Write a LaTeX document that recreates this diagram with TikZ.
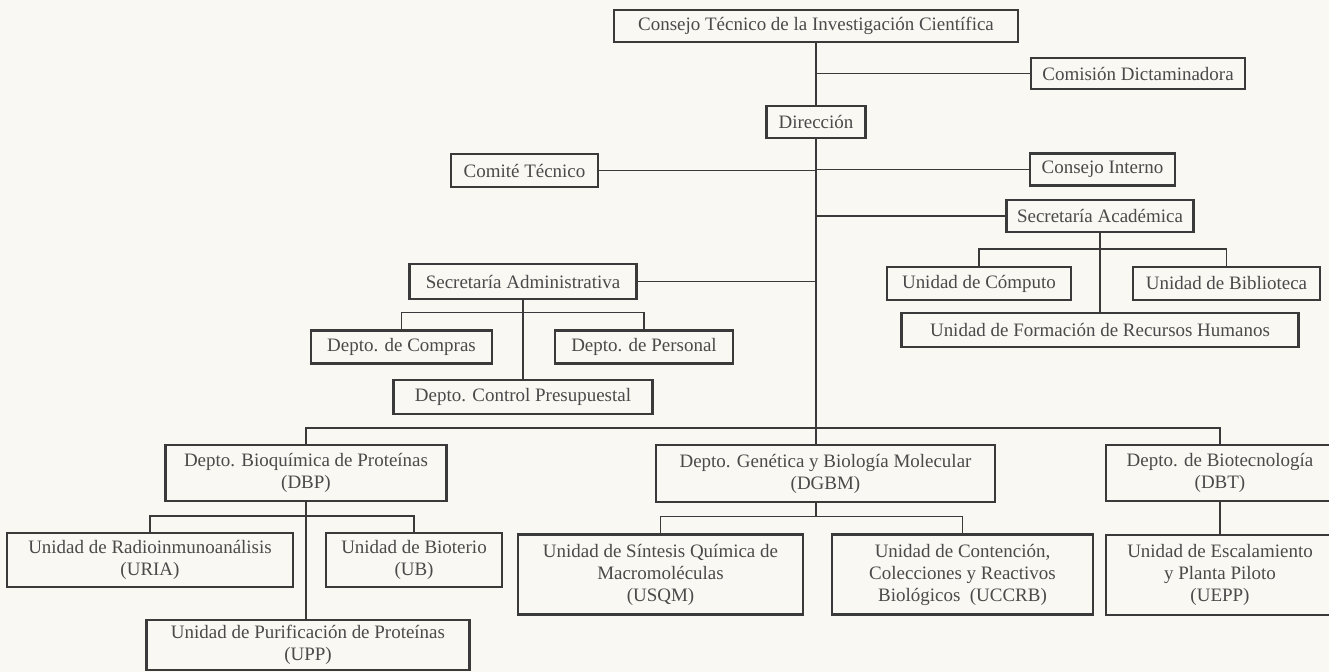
\documentclass[tikz,border=0pt]{standalone}
\usepackage{fontspec}
\setmainfont{Liberation Serif}
\definecolor{ink}{HTML}{3A3A3A}
\definecolor{txt}{HTML}{4A4A4A}
\definecolor{paper}{HTML}{F9F8F3}
\begin{document}
\begin{tikzpicture}[x=0.02cm,y=-0.02cm,
  box/.style={draw=ink, line width=1.2pt, text=txt, inner sep=0pt, align=center,
    font=\fontsize{10.8}{12.5}\selectfont},
  sz/.style 2 args={minimum width=#1*0.02cm, minimum height=#2*0.02cm},
  link/.style={draw=ink, line width=0.9pt}]
\useasboundingbox[fill=paper] (0,0) rectangle (1329,672);
% nodes
\node[box, sz={404}{32}] (ct) at (816,26) {Consejo Técnico de la Investigación Científica};
\node[box, sz={214}{31}] (cd) at (1138,73.5) {Comisión Dictaminadora};
\node[box, sz={99}{32}] (dir) at (816,122) {Dirección};
\node[box, sz={147}{33}] (comt) at (524.5,170.5) {Comité Técnico};
\node[box, sz={145}{32}] (ci) at (1102.5,169.5) {Consejo Interno};
\node[box, sz={187}{32}] (sa) at (1100,216) {Secretaría Académica};
\node[box, sz={184}{33}] (uc) at (979,283.5) {Unidad de Cómputo};
\node[box, sz={187}{33}] (bib) at (1226.5,283.5) {Unidad de Biblioteca};
\node[box, sz={397}{34}] (ufrh) at (1100,330) {Unidad de Formación de Recursos Humanos};
\node[box, sz={227}{35}] (sadm) at (523,281.5) {Secretaría Administrativa};
\node[box, sz={181}{33}] (comp) at (401.5,347) {Depto. de Compras};
\node[box, sz={178}{33}] (pers) at (644,347) {Depto. de Personal};
\node[box, sz={259}{34}] (ctrl) at (523,397) {Depto. Control Presupuestal};
\node[box, sz={281}{56}] (dbp) at (306,473) {Depto. Bioquímica de Proteínas\\(DBP)};
\node[box, sz={339}{57}] (dgbm) at (825.5,473.5) {Depto. Genética y Biología Molecular\\(DGBM)};
\node[box, sz={228}{56}] (dbt) at (1220,473) {Depto. de Biotecnología\\(DBT)};
\node[box, sz={286}{54}] (uria) at (150,560) {Unidad de Radioinmunoanálisis\\(URIA)};
\node[box, sz={176}{54}] (ubio) at (414,560) {Unidad de Bioterio\\(UB)};
\node[box, sz={323}{50}] (upp) at (308,645) {Unidad de Purificación de Proteínas\\(UPP)};
\node[box, sz={285}{80}] (usqm) at (660.5,574.5) {Unidad de Síntesis Química de\\Macromoléculas\\(USQM)};
\node[box, sz={261}{80}] (uccrb) at (962.5,574.5) {Unidad de Contención,\\Colecciones y Reactivos\\Biológicos\ \ (UCCRB)};
\node[box, sz={228}{80}] (uepp) at (1220,575) {Unidad de Escalamiento\\y Planta Piloto\\(UEPP)};
\coordinate (bus) at (816,428);
% connectors
\draw[link] (ct.south) -- (dir.north);
\draw[link] (cd.west) -- (cd.west -| dir.north);
\draw[link] (dir.south) -- (dir.south |- dgbm.north);
\draw[link] (comt.east) -- (comt.east -| dir.south);
\draw[link] (ci.west) -- (ci.west -| dir.south);
\draw[link] (sa.west) -- (sa.west -| dir.south);
\draw[link] (sadm.east) -- (sadm.east -| dir.south);
% Secretaria Academica
\draw[link] (sa.south) -- (ufrh.north);
\draw[link] (uc.north) -- ++(0,-17) -| (bib.north);
% Secretaria Administrativa
\draw[link] (sadm.south) -- (ctrl.north);
\draw[link] (comp.north) -- ++(0,-17) -| (pers.north);
% departments bus
\draw[link] (dbp.north) |- (bus) -| (dbt.north);
% DBP
\draw[link] (dbp.south) -- (dbp.south |- upp.north);
\draw[link] (uria.north) -- ++(0,-16) -| (ubio.north);
% DGBM
\draw[link] (dir.south |- dgbm.south) -- (dir.south |- 0,517);
\draw[link] (usqm.north) -- ++(0,-17) -| (uccrb.north);
% DBT
\draw[link] (dbt.south) -- (uepp.north);
\end{tikzpicture}
\end{document}
